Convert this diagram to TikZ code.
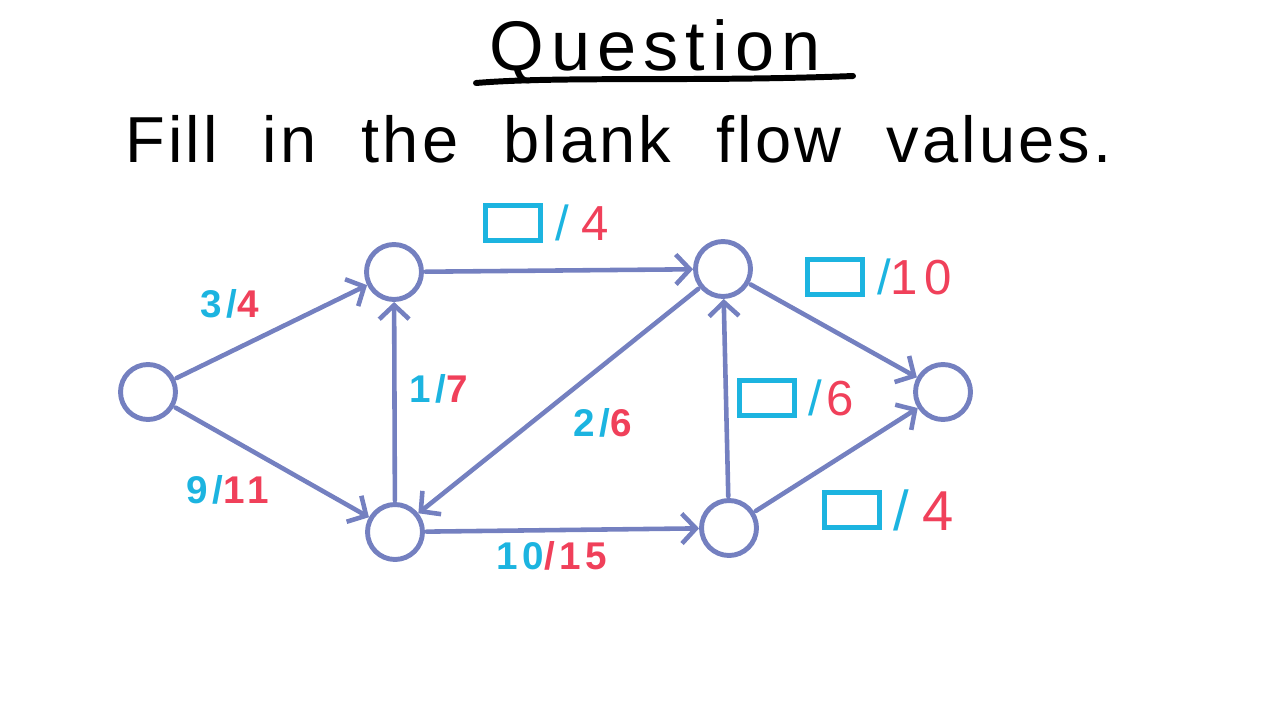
\documentclass[tikz,border=0pt]{standalone}
\usepackage{fontspec}
\setmainfont{Liberation Sans}
\newfontfamily\handfont[WordSpace=2.1, LetterSpace=5]{Liberation Sans}
\newfontfamily\titlefont[LetterSpace=10]{Liberation Sans}
\newfontfamily\labelfont[LetterSpace=12]{Liberation Sans}
\definecolor{edgeblue}{RGB}{116, 128, 192}
\definecolor{flowblue}{RGB}{28, 180, 224}
\definecolor{flowred}{RGB}{240, 64, 90}
\usetikzlibrary{arrows.meta, positioning}

\begin{document}
\begin{tikzpicture}[x=0.02cm, y=-0.02cm,
    vertex/.style={circle, draw=edgeblue, line width=2.8pt, minimum size=1.1cm, inner sep=0pt},
    flow/.style={draw=edgeblue, line width=2.6pt, line cap=round, shorten <=1pt,
                 -{Straight Barb[length=8pt, width=17pt]}},
    small/.style={font=\labelfont\bfseries\fontsize{22}{22}\selectfont, inner sep=0pt},
    big/.style={font=\labelfont\fontsize{28}{28}\selectfont, inner sep=0pt, anchor=west},
    blank/.style={draw=flowblue, line width=2.8pt, minimum width=1.1cm, minimum height=0.7cm, inner sep=0pt}]
    \useasboundingbox (0,0) rectangle (1280,720);

    % Heading
    \node[font=\titlefont\fontsize{40}{40}\selectfont, anchor=base, inner sep=0pt] (title) at (655,70) {Question};
    \draw[line width=3.4pt, line cap=round] (476,83) .. controls (560,76) and (700,82) .. (853,76);
    \node[font=\handfont\fontsize{37}{37}\selectfont, anchor=base west, inner sep=0pt] (task) at (125,162)
        {Fill in the blank flow values.};

    % Vertices
    \node[vertex] (s) at (148,392) {};
    \node[vertex] (a) at (394,272) {};
    \node[vertex] (b) at (395,532) {};
    \node[vertex] (c) at (723,269) {};
    \node[vertex] (d) at (729,528) {};
    \node[vertex] (t) at (943,392) {};

    % Edges
    \draw[flow] (s) -- (a);
    \draw[flow] (s) -- (b);
    \draw[flow] (b) -- (a);
    \draw[flow] (a) -- (c);
    \draw[flow] (c) -- (b);
    \draw[flow] (b) -- (d);
    \draw[flow] (d) -- (c);
    \draw[flow] (c) -- (t);
    \draw[flow] (d) -- (t);

    % Known flows
    \node[small] (lsa) at (230,304) {\textcolor{flowblue}{3/}\textcolor{flowred}{4}};
    \node[small] (lsb) at (228,490) {\textcolor{flowblue}{9/}\textcolor{flowred}{11}};
    \node[small] (lba) at (439,389) {\textcolor{flowblue}{1/}\textcolor{flowred}{7}};
    \node[small] (lcb) at (603,423) {\textcolor{flowblue}{2/}\textcolor{flowred}{6}};
    \node[small] (lbd) at (552,556) {\textcolor{flowblue}{10}\textcolor{flowred}{/15}};

    % Blank flows
    \node[blank] (bac) at (513,223) {};
    \node[big, right=0.24cm of bac] (lac) {\textcolor{flowblue}{/}\hspace{0.25em}\textcolor{flowred}{4}};
    \node[blank] (bct) at (835,277) {};
    \node[big, right=0.24cm of bct] (lct) {\textcolor{flowblue}{/}\textcolor{flowred}{10}};
    \node[blank] (bdc) at (767,398) {};
    \node[big, right=0.22cm of bdc] (ldc) {\textcolor{flowblue}{/}\hspace{0.1em}\textcolor{flowred}{6}};
    \node[blank] (bdt) at (852,510) {};
    \node[big, right=0.22cm of bdt, font=\labelfont\fontsize{32}{32}\selectfont] (ldt)
        {\textcolor{flowblue}{/}\hspace{0.25em}\textcolor{flowred}{4}};
\end{tikzpicture}
\end{document}
